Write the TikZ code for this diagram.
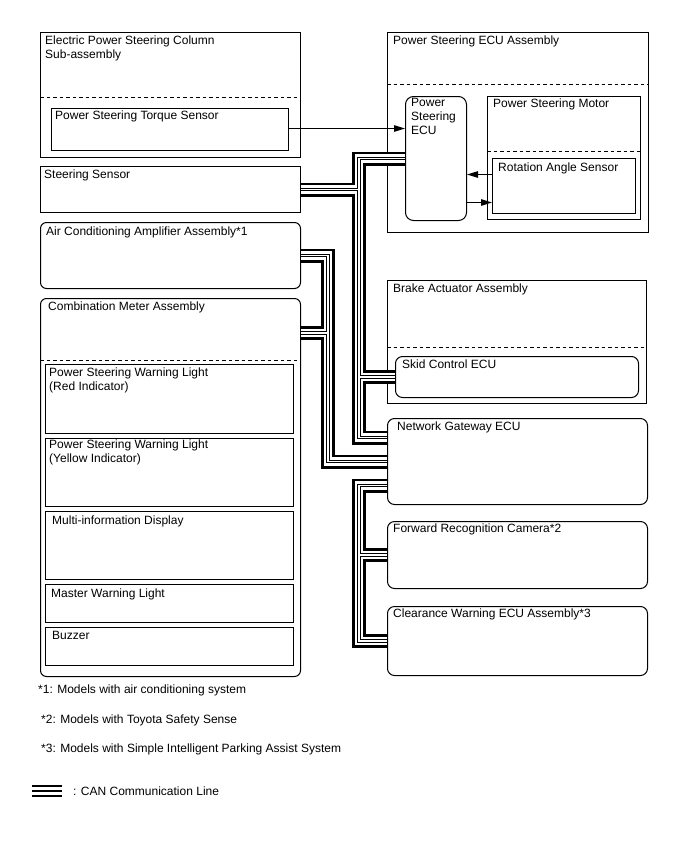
\documentclass[tikz,border=0pt]{standalone}
\usepackage{fontspec}
\setmainfont{Liberation Sans}
\usetikzlibrary{arrows.meta,
                positioning
                }

\begin{document}
\begin{tikzpicture}[
    x=1pt, y=-1pt,
    node distance = 3.5pt and 5pt,
    font=\fontsize{12}{14}\selectfont,
     blk/.style = {draw, line width=1pt, inner sep=0pt, anchor=north west},
    rblk/.style = {blk, rounded corners=6pt},
     txt/.style = {inner sep=0pt, align=left},
    note/.style = {inner sep=0pt, anchor=base west},
   dline/.style = {line width=0.8pt, dash pattern=on 3.5pt off 3pt},
sigarrow/.style = {line width=1pt, -{Triangle[length=11pt,width=6.5pt]}}
                    ]
\useasboundingbox (0,0) rectangle (688,852);
% left column
\node (eps)    [blk, minimum width=260, minimum height=125] at (40,32) {};
\node (torque) [blk, minimum width=237, minimum height=42]  at (51,108) {};
\node (sens)   [blk, minimum width=260, minimum height=46]  at (40,166) {};
\node (ac)     [rblk, minimum width=260, minimum height=66] at (40,222) {};
\node (meter)  [rblk, minimum width=260, minimum height=378] at (40,298) {};
\node (red)    [blk, minimum width=248, minimum height=69]  at (45,364) {};
\node (yel)    [blk, minimum width=248, minimum height=68]  at (45,438) {};
\node (mid)    [blk, minimum width=248, minimum height=68]  at (45,511) {};
\node (mwl)    [blk, minimum width=248, minimum height=38]  at (45,584) {};
\node (buz)    [blk, minimum width=248, minimum height=38]  at (45,627) {};
% right column
\node (psa)    [blk, minimum width=261, minimum height=200] at (387,32) {};
\node (ecu)    [rblk, rounded corners=8pt, minimum width=61, minimum height=124] at (405,96) {};
\node (mot)    [blk, minimum width=153, minimum height=123] at (487,96) {};
\node (rot)    [blk, minimum width=143, minimum height=55]  at (492,158) {};
\node (bra)    [blk, minimum width=259, minimum height=123] at (387,280) {};
\node (skid)   [rblk, rounded corners=7pt, minimum width=243, minimum height=41] at (395,356) {};
\node (gw)     [rblk, rounded corners=7pt, minimum width=260, minimum height=86] at (387,418) {};
\node (cam)    [rblk, rounded corners=7pt, minimum width=260, minimum height=67] at (387,521) {};
\node (clr)    [rblk, rounded corners=7pt, minimum width=260, minimum height=69] at (387,606) {};

\node (epsT)    [txt, below right=of eps.north west] {Electric Power Steering Column\\Sub-assembly};
\node (torqueT) [txt, below right=3pt and 4pt of torque.north west] {Power Steering Torque Sensor};
\node (sensT)   [txt, below right=3.5pt and 4pt of sens.north west] {Steering Sensor};
\node (acT)     [txt, below right=4.5pt and 6pt of ac.north west] {Air Conditioning Amplifier Assembly*1};
\node (meterT)  [txt, below right=3.5pt and 8pt of meter.north west] {Combination Meter Assembly};
\node (redT)    [txt, below right=3.5pt and 4pt of red.north west] {Power Steering Warning Light\\(Red Indicator)};
\node (yelT)    [txt, below right=2pt and 4pt of yel.north west] {Power Steering Warning Light\\(Yellow Indicator)};
\node (midT)    [txt, below right=4.5pt and 7pt of mid.north west] {Multi-information Display};
\node (mwlT)    [txt, below right=4.5pt and 6pt of mwl.north west] {Master Warning Light};
\node (buzT)    [txt, below right=4.5pt and 7pt of buz.north west] {Buzzer};
\node (psaT)    [txt, below right=4pt and 6pt of psa.north west] {Power Steering ECU Assembly};
\node (ecuT)    [txt, below right=2.5pt and 6pt of ecu.north west] {Power\\Steering\\ECU};
\node (motT)    [txt, below right=2.5pt and 6pt of mot.north west] {Power Steering Motor};
\node (rotT)    [txt, below right=4.5pt and 6pt of rot.north west] {Rotation Angle Sensor};
\node (braT)    [txt, below right=3.5pt and 6pt of bra.north west] {Brake Actuator Assembly};
\node (skidT)   [txt, below right=3.5pt and 7pt of skid.north west] {Skid Control ECU};
\node (gwT)     [txt, below right=3.5pt and 10pt of gw.north west] {Network Gateway ECU};
\node (camT)    [txt, below right=2.5pt and 6pt of cam.north west] {Forward Recognition Camera*2};
\node (clrT)    [txt, below right=2.5pt and 6pt of clr.north west] {Clearance Warning ECU Assembly*3};

% dashed splits
\draw [dline] ([yshift=-65pt]eps.north west) -- ([yshift=-65pt]eps.north east);
\draw [dline] ([yshift=-62pt]meter.north west) -- ([yshift=-62pt]meter.north east);
\draw [dline] ([yshift=-52pt]psa.north west) -- ([yshift=-52pt]psa.north east);
\draw [dline] ([yshift=-55pt]mot.north west) -- ([yshift=-55pt]mot.north east);
\draw [dline] ([yshift=-67pt]bra.north west) -- ([yshift=-67pt]bra.north east);

% signal lines
\coordinate (ta) at ([yshift=1pt]torque.east);
\coordinate (ra) at ([yshift=11.5pt]rot.west);
\coordinate (rb) at ([yshift=-16.5pt]rot.west);
\draw [sigarrow] (ta) -- (ta -| ecu.west);
\draw [sigarrow] (ra) -- (ra -| ecu.east);
\draw [sigarrow] (rb -| ecu.east) -- (rb);

% CAN lines
\coordinate (b1) at (359,0);
\coordinate (b2) at (328,0);
\coordinate (cm) at ([yshift=-35pt]meter.north east);
\foreach \w/\c in {14/black, 8.6/white, 3.6/black, 1.4/white}{
  \draw [line width=\w pt, draw=\c] (sens.east) -| (ecu.west -| b1) -- (ecu.west);
  \draw [line width=\w pt, draw=\c] (sens.east -| b1) |- (skid.west);
  \draw [line width=\w pt, draw=\c] (skid.west -| b1) |- ([yshift=24pt]gw.west);
  \draw [line width=\w pt, draw=\c] (ac.east) -| (gw.west -| b2) -- (gw.west);
  \draw [line width=\w pt, draw=\c] (cm) -- (cm -| b2);
  \draw [line width=\w pt, draw=\c] ([yshift=-24pt]gw.west) -| (cam.west -| b1) -- (cam.west);
  \draw [line width=\w pt, draw=\c] (cam.west -| b1) |- (clr.west);
}
% legend symbol
\coordinate (lg1) at (32,791);
\coordinate (lg2) at (62,791);
\foreach \w/\c in {12/black, 7.5/white, 2/black}
  \draw [line width=\w pt, draw=\c] (lg1) -- (lg2);

% notes
\node (fn1) [note] at (38,693) {*1: Models with air conditioning system};
\node (fn2) [note] at (41,723) {*2: Models with Toyota Safety Sense};
\node (fn3) [note] at (41,752) {*3: Models with Simple Intelligent Parking Assist System};
\node (lgT) [note] at (73,795) {: CAN Communication Line};
\end{tikzpicture}
\end{document}
